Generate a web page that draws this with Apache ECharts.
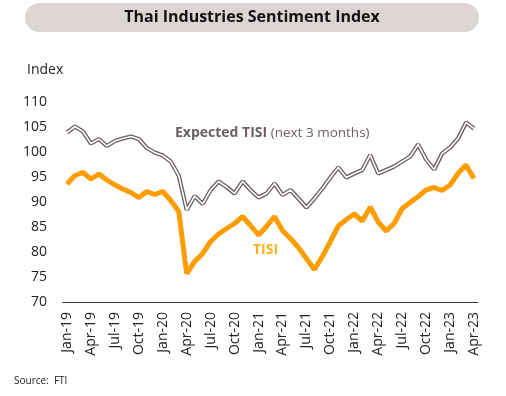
<!DOCTYPE html>
<html><head><meta charset="utf-8">
<script src="https://cdn.jsdelivr.net/npm/echarts@6/dist/echarts.min.js"></script>
<style>html,body{margin:0;padding:0;background:#fff}#c{width:506px;height:396px}</style>
</head><body><div id="c"></div>
<script>
const months = (function(){
  const m=['Jan','Feb','Mar','Apr','May','Jun','Jul','Aug','Sep','Oct','Nov','Dec'];
  const out=[];
  for(let y=19;y<=23;y++){for(let i=0;i<12;i++){out.push(m[i]+'-'+y); if(y===23&&i===3) return out;}}
  return out;
})();
const tisi = [93.6,95.3,95.9,94.6,95.6,94.4,93.4,92.6,91.9,90.9,92.1,91.5,
  92.1,90.3,88.1,75.7,78.1,79.7,82.1,83.6,84.7,85.7,87.1,85.3,
  83.4,85.1,87.1,84.3,82.7,80.9,78.7,76.5,79.1,82.1,85.2,86.5,
  87.6,86.2,89.0,86.0,84.2,85.7,88.7,89.9,91.1,92.4,92.9,92.3,
  93.4,95.7,97.4,94.7];
const expected = [103.9,105.1,104.1,101.7,102.6,101.2,102.2,102.7,103.1,102.6,100.8,99.9,
  99.3,98.1,95.3,88.4,91.2,89.6,92.4,94.1,93.0,91.7,94.1,92.4,
  90.9,91.7,93.7,91.4,92.4,90.7,88.9,90.7,92.7,94.9,96.9,94.9,
  95.7,96.4,99.4,95.7,96.4,97.1,98.1,99.1,101.5,98.5,96.5,99.7,
  100.9,102.7,105.9,104.7];
const yTicks = [70,75,80,85,90,95,100,105,110];
const shownLabels = ['Jan','Apr','Jul','Oct'];
const F = '"Open Sans", sans-serif';
const chart = echarts.init(document.getElementById('c'));
chart.setOption({
  animation:false,
  grid:{left:63,right:28,top:102,bottom:94},
  xAxis:{type:'category',data:months,boundaryGap:true,
    axisLine:{lineStyle:{color:'#333',width:1}},axisTick:{show:false},
    axisLabel:{rotate:90,interval:0,margin:10,color:'#222',fontSize:14,fontFamily:F,
      formatter:function(v){return shownLabels.indexOf(v.slice(0,3))>=0?v:'';}}},
  yAxis:{type:'value',min:yTicks[0],max:yTicks[yTicks.length-1],interval:5,
    axisLine:{show:false},axisTick:{show:false},splitLine:{show:false},
    axisLabel:{color:'#222',fontSize:14,fontFamily:F,margin:16}},
  series:[
    {type:'line',data:expected,symbol:'none',lineStyle:{color:'#6b5e5e',width:4.2},z:2},
    {type:'line',data:expected,symbol:'none',lineStyle:{color:'#ffffff',width:1.6},z:3},
    {type:'line',data:tisi,symbol:'none',lineStyle:{color:'#ff9c00',width:5},z:4}
  ],
  graphic:[
    {type:'rect',shape:{x:25,y:3,width:454,height:29,r:14.5},style:{fill:'#ddd5d3'},z:0},
    {type:'text',x:252,y:17.5,style:{text:'Thai Industries Sentiment Index',fontSize:16,fontWeight:'bold',fontFamily:F,fill:'#111',align:'center',verticalAlign:'middle'}},
    {type:'text',x:27,y:70,style:{text:'Index',fontSize:14,fontFamily:F,fill:'#222',verticalAlign:'middle'}},
    {type:'text',x:175,y:133.5,style:{text:'{b|Expected TISI} {n|(next 3 months)}',verticalAlign:'middle',fill:'#6d5f5f',fontFamily:F,fontSize:13.5,
      rich:{b:{fontSize:14,fontWeight:'bold',fontFamily:F,fill:'#6d5f5f',color:'#6d5f5f'},n:{fontSize:13.5,fontFamily:F,fill:'#6d5f5f',color:'#6d5f5f'}}}},
    {type:'text',x:253,y:250,style:{text:'TISI',fontSize:14,fontWeight:'bold',fontFamily:F,fill:'#ffb020',verticalAlign:'middle'}},
    {type:'text',x:14,y:381,style:{text:'Source:  FTI',fontSize:10,fontFamily:F,fill:'#222',verticalAlign:'middle'}}
  ]
});
</script></body></html>
